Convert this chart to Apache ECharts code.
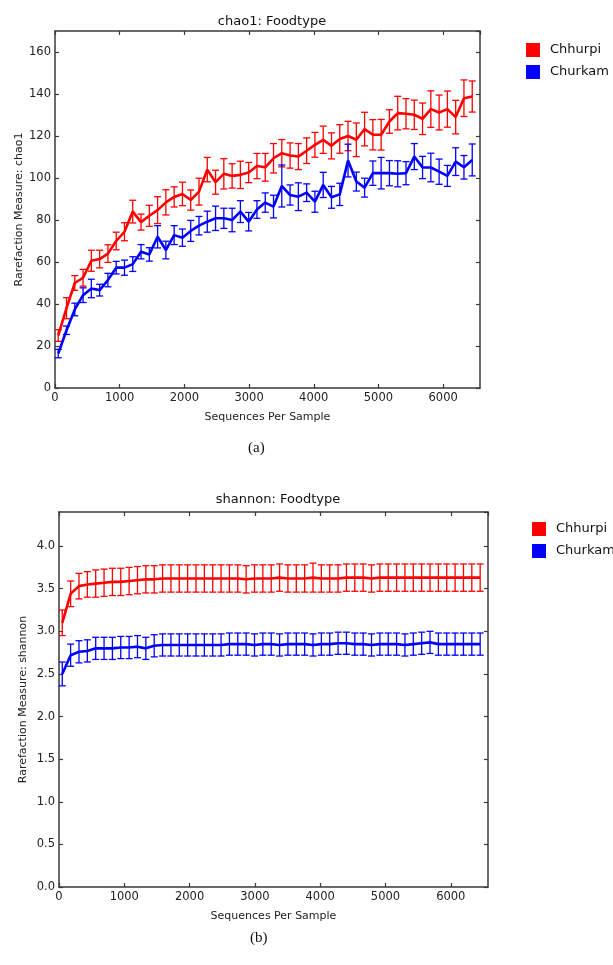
<!DOCTYPE html>
<html>
<head>
<meta charset="utf-8">
<script src="https://cdn.jsdelivr.net/npm/echarts@6/dist/echarts.min.js"></script>
<style>
html,body{margin:0;padding:0;background:#fff;}
#chart{width:613px;height:965px;}
</style>
</head>
<body>
<div id="chart"></div>
<script>
// ---- data ----
var depths = [50,178,306,434,562,690,818,946,1074,1202,1330,1458,1586,1714,1842,1970,2098,2226,2354,2482,2610,2738,2866,2994,3122,3250,3378,3506,3634,3762,3890,4018,4146,4274,4402,4530,4658,4786,4914,5042,5170,5298,5426,5554,5682,5810,5938,6066,6194,6322,6450];

var chao1Chhurpi = [25,38,50,52.5,60.6,61.4,64,70,74.4,84,79,82,84.7,88.4,91,92.4,89.5,93.5,104,98,102,101,101.5,102.6,105.7,105.1,109.4,111.8,110.7,110.2,113,115.8,118.2,115.3,118.6,120,118.2,123.3,120.6,120.6,126.9,130.9,130.6,130.1,128.2,132.8,131.2,132.8,129,138,138.8];
var chao1ChhurpiErr = [2.8,5,3.5,4,5,4.2,4.2,4.2,4.3,5.4,3.8,5,6.4,6,4.8,5.6,4.8,6.4,5.8,5.7,7.2,5.8,6.5,4.8,6,6.6,7,6.5,6,6.2,6.1,5.9,6.5,6.2,6.8,7,8,8,7.2,7.3,5.6,8,7.2,7,7.5,8.7,8.3,8.6,8,8.7,7.4];
var chao1Churkam = [16.4,27.5,37.4,44.2,47.4,46.6,51.4,57.3,57.3,59,64.9,63.6,72,65.7,72.8,71.6,74.8,77.3,79.2,80.8,80.8,80,84,79.2,85,88.3,86.4,96.2,91.9,91.1,93,88.7,96.7,90.8,92.2,108.3,98.3,95.4,102.3,102.3,102.3,102,102.3,110.2,105,105,103,101,107.8,105.1,108.6];
var chao1ChurkamErr = [2,2,3,3.5,4.4,2.8,3.2,3,3.6,3.5,3.4,3.2,5.3,4.2,4.5,4.1,5,4.4,5,5.8,4.8,5.6,5.2,4.4,4.2,4.6,5.4,10,4.8,6.6,4.2,5,6,5.2,5.3,7.8,4.5,4.5,5.8,7.5,6,6.2,5.5,6.2,5.3,6.8,6,5,6.6,5.6,7.6];

var shannonChhurpi = [3.10,3.44,3.53,3.55,3.56,3.57,3.58,3.58,3.59,3.60,3.61,3.61,3.62,3.62,3.62,3.62,3.62,3.62,3.62,3.62,3.62,3.62,3.61,3.62,3.62,3.62,3.63,3.62,3.62,3.62,3.63,3.62,3.62,3.62,3.63,3.63,3.63,3.62,3.63,3.63,3.63,3.63,3.63,3.63,3.63,3.63,3.63,3.63,3.63,3.63,3.63];
var shannonChhurpiErr = [0.15,0.15,0.15,0.15,0.16,0.16,0.16,0.16,0.16,0.16,0.16,0.16,0.16,0.16,0.16,0.16,0.16,0.16,0.16,0.16,0.16,0.16,0.16,0.16,0.16,0.16,0.16,0.16,0.16,0.16,0.17,0.16,0.16,0.16,0.16,0.16,0.16,0.16,0.16,0.16,0.16,0.16,0.16,0.16,0.16,0.16,0.16,0.16,0.16,0.16,0.16];
var shannonChurkam = [2.50,2.72,2.76,2.77,2.80,2.80,2.80,2.81,2.81,2.82,2.80,2.83,2.84,2.84,2.84,2.84,2.84,2.84,2.84,2.84,2.85,2.85,2.85,2.84,2.85,2.85,2.84,2.85,2.85,2.85,2.84,2.85,2.85,2.86,2.86,2.85,2.85,2.84,2.85,2.85,2.85,2.84,2.85,2.86,2.87,2.85,2.85,2.85,2.85,2.85,2.85];
var shannonChurkamErr = [0.14,0.13,0.13,0.13,0.13,0.13,0.13,0.13,0.13,0.13,0.13,0.13,0.13,0.13,0.13,0.13,0.13,0.13,0.13,0.13,0.13,0.13,0.13,0.13,0.13,0.13,0.13,0.13,0.13,0.13,0.13,0.13,0.13,0.13,0.13,0.13,0.13,0.13,0.13,0.13,0.13,0.13,0.13,0.13,0.13,0.13,0.13,0.13,0.13,0.13,0.13];

var seriesNames = ['Chhurpi', 'Churkam'];
var colors = ['#ff0000', '#0000ff'];
var chartTitles = ['chao1: Foodtype', 'shannon: Foodtype'];
var yNames = ['Rarefaction Measure: chao1', 'Rarefaction Measure: shannon'];
var xName = 'Sequences Per Sample';
var panelLabels = ['(a)', '(b)'];

// ---- helpers ----
var FONT = 'DejaVu Sans';
var AX = '#3a3a3a';
function pairs(ys, errs) {
  return depths.map(function (d, i) { return [d, ys[i], errs ? errs[i] : 0]; });
}
function errRender(color) {
  return function (params, api) {
    var x = api.value(0), y = api.value(1), e = api.value(2);
    var lo = api.coord([x, y - e]);
    var hi = api.coord([x, y + e]);
    var w = 3.5;
    var st = { stroke: color, lineWidth: 1.3 };
    return {
      type: 'group',
      children: [
        { type: 'line', shape: { x1: lo[0], y1: lo[1], x2: hi[0], y2: hi[1] }, style: st },
        { type: 'line', shape: { x1: lo[0] - w, y1: lo[1], x2: lo[0] + w, y2: lo[1] }, style: st },
        { type: 'line', shape: { x1: hi[0] - w, y1: hi[1], x2: hi[0] + w, y2: hi[1] }, style: st }
      ]
    };
  };
}
var XMAX = 6570;
function xAxes(g) {
  var base = {
    type: 'value', gridIndex: g, min: 0, max: XMAX, interval: 1000,
    splitLine: { show: false },
    axisLine: { show: true, onZero: false, lineStyle: { color: AX, width: 1.5 } },
    axisTick: { show: true, inside: true, length: 4, lineStyle: { color: AX, width: 1.2 } }
  };
  var bottom = Object.assign({}, base, {
    position: 'bottom',
    name: xName, nameLocation: 'middle', nameGap: 24,
    nameTextStyle: { fontFamily: FONT, fontSize: 11, color: '#222' },
    axisLabel: { show: true, showMaxLabel: false, fontFamily: FONT, fontSize: 11.5, color: '#222', margin: 4,
      formatter: function (v) { return String(v); } }
  });
  var top = Object.assign({}, base, { position: 'top', axisLabel: { show: false } });
  return [bottom, top];
}
function yAxes(g, max, interval, fmt, gap) {
  var base = {
    type: 'value', gridIndex: g, min: 0, max: max, interval: interval,
    splitLine: { show: false },
    axisLine: { show: true, onZero: false, lineStyle: { color: AX, width: 1.5 } },
    axisTick: { show: true, inside: true, length: 4, lineStyle: { color: AX, width: 1.2 } }
  };
  var left = Object.assign({}, base, {
    position: 'left',
    name: yNames[g], nameLocation: 'middle', nameGap: gap, nameMoveOverlap: false,
    nameTextStyle: { fontFamily: FONT, fontSize: 11, color: '#222' },
    axisLabel: { show: true, showMaxLabel: false, fontFamily: FONT, fontSize: 11.5, color: '#222', margin: 4, formatter: fmt }
  });
  var right = Object.assign({}, base, { position: 'right', axisLabel: { show: false } });
  return [left, right];
}

var chart = echarts.init(document.getElementById('chart'), null, { renderer: 'canvas' });

var grids = [
  { left: 55, top: 31, width: 425, height: 357 },
  { left: 59, top: 512, width: 429, height: 375 }
];

var xAxisList = xAxes(0).concat(xAxes(1));
var yAxisList = yAxes(0, 170, 20, function (v) { return String(v); }, 30)
  .concat(yAxes(1, 4.4, 0.5, function (v) { return v.toFixed(1); }, 30));

var panels = [
  { g: 0, vals: [chao1Chhurpi, chao1Churkam], errs: [chao1ChhurpiErr, chao1ChurkamErr] },
  { g: 1, vals: [shannonChhurpi, shannonChurkam], errs: [shannonChhurpiErr, shannonChurkamErr] }
];
var series = [];
panels.forEach(function (p) {
  [0, 1].forEach(function (s) {
    series.push({
      type: 'line', name: seriesNames[s], xAxisIndex: p.g * 2, yAxisIndex: p.g * 2,
      data: pairs(p.vals[s]), showSymbol: false, symbol: 'none',
      lineStyle: { color: colors[s], width: 2.6 }, itemStyle: { color: colors[s] },
      animation: false, z: 3
    });
    series.push({
      type: 'custom', name: seriesNames[s] + ' err', xAxisIndex: p.g * 2, yAxisIndex: p.g * 2,
      data: pairs(p.vals[s], p.errs[s]), renderItem: errRender(colors[s]),
      encode: { x: 0, y: [1] }, animation: false, z: 2, silent: true
    });
  });
});

var legendCommon = {
  data: seriesNames, orient: 'vertical', icon: 'rect', itemWidth: 14, itemHeight: 14, itemGap: 8,
  textStyle: { fontFamily: FONT, fontSize: 13, color: '#111', padding: [0, 0, 0, 5] },
  selectedMode: false
};

chart.setOption({
  backgroundColor: '#fff',
  animation: false,
  title: [
    { text: chartTitles[0], left: 267, top: 10, textAlign: 'center', textStyle: { fontFamily: FONT, fontSize: 13, fontWeight: 'normal', color: '#111' } },
    { text: chartTitles[1], left: 273, top: 488, textAlign: 'center', textStyle: { fontFamily: FONT, fontSize: 13, fontWeight: 'normal', color: '#111' } }
  ],
  legend: [
    Object.assign({ left: 521, top: 38 }, legendCommon),
    Object.assign({ left: 527, top: 517 }, legendCommon)
  ],
  grid: grids,
  xAxis: xAxisList,
  yAxis: yAxisList,
  series: series,
  graphic: [
    { type: 'text', left: 248, top: 441, style: { text: panelLabels[0], font: '15px "Liberation Serif"', fill: '#111' } },
    { type: 'text', left: 250, top: 931, style: { text: panelLabels[1], font: '15px "Liberation Serif"', fill: '#111' } }
  ]
});
</script>
</body>
</html>
